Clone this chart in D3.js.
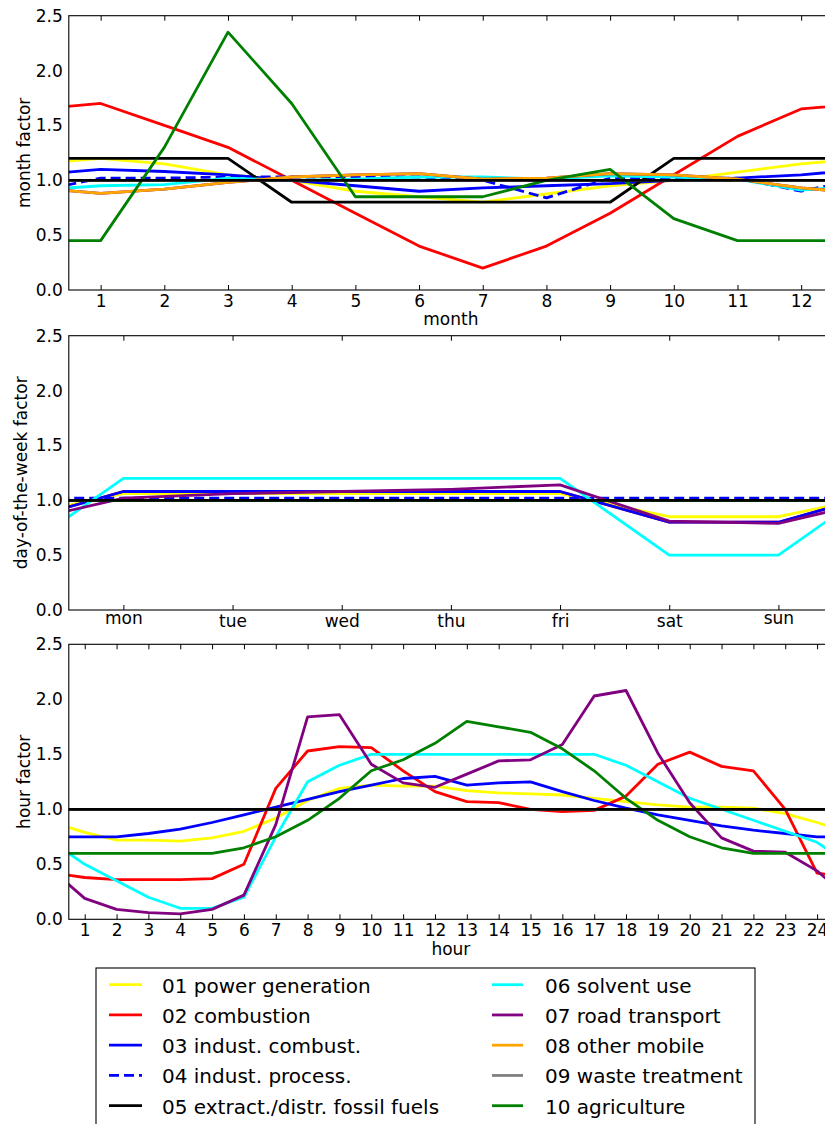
<!DOCTYPE html>
<html><head><meta charset="utf-8">
<script src="https://cdn.jsdelivr.net/npm/d3@7"></script>
<style>
body{margin:0;background:#fff}
svg{display:block}
text{font-family:"DejaVu Sans",sans-serif;fill:#000}
</style>
</head><body><svg id="c" width="825" height="1124"></svg>
<script>
// ---------- data ----------
const sectorNames = ["01 power generation","02 combustion","03 indust. combust.","04 indust. process.",
  "05 extract./distr. fossil fuels","06 solvent use","07 road transport","08 other mobile",
  "09 waste treatment","10 agriculture"];
const sectorColors = ["#ffff00","#ff0000","#0000ff","#0000ff","#000000","#00ffff","#800080","#ffa500","#808080","#008000"];
const sectorDashed = [false,false,false,true,false,false,false,false,false,false];

const monthLabels = ["1","2","3","4","5","6","7","8","9","10","11","12"];
const dayLabels = ["mon","tue","wed","thu","fri","sat","sun"];
const hourLabels = ["1","2","3","4","5","6","7","8","9","10","11","12","13","14","15","16","17","18","19","20","21","22","23","24"];
const yTicks = [0.0,0.5,1.0,1.5,2.0,2.5];

// month factors
const m01 = [1.20,1.15,1.05,1.00,0.90,0.85,0.80,0.875,0.95,1.00,1.075,1.15];
const m02 = [1.70,1.50,1.30,1.00,0.70,0.40,0.20,0.40,0.70,1.05,1.40,1.65];
const m03 = [1.10,1.08,1.05,1.00,0.95,0.90,0.93,0.95,0.97,1.00,1.02,1.05];
const m04 = [1.02,1.02,1.03,1.03,1.03,1.03,1.00,0.84,1.02,1.02,1.02,0.90];
const m05 = [1.20,1.20,1.20,0.80,0.80,0.80,0.80,0.80,0.80,1.20,1.20,1.20];
const m06 = [0.95,0.96,1.02,1.00,1.01,1.03,1.03,1.01,1.04,1.03,1.01,0.91];
const m07 = [0.88,0.92,0.98,1.03,1.05,1.06,1.01,1.02,1.06,1.05,1.01,0.93];
const m08 = [0.88,0.92,0.98,1.03,1.05,1.06,1.01,1.02,1.06,1.05,1.01,0.93];
const m09 = [1,1,1,1,1,1,1,1,1,1,1,1];
const m10 = [0.45,1.30,2.35,1.70,0.85,0.85,0.85,1.00,1.10,0.65,0.45,0.45];

// day-of-the-week factors
const d01 = [1.06,1.06,1.06,1.06,1.06,0.85,0.85];
const d02 = [1.08,1.08,1.08,1.08,1.08,0.80,0.80];
const d03 = [1.08,1.08,1.08,1.08,1.08,0.80,0.80];
const d04 = [1.02,1.02,1.02,1.02,1.02,1.02,1.02];
const d05 = [1,1,1,1,1,1,1];
const d06 = [1.20,1.20,1.20,1.20,1.20,0.50,0.50];
const d07 = [1.02,1.06,1.08,1.10,1.14,0.81,0.79];
const d08 = [1,1,1,1,1,1,1];
const d09 = [1,1,1,1,1,1,1];
const d10 = [1,1,1,1,1,1,1];

// hour factors
const h01 = [0.79,0.72,0.72,0.71,0.74,0.80,0.92,1.08,1.19,1.22,1.21,1.21,1.17,1.15,1.14,1.13,1.10,1.07,1.04,1.02,1.02,1.01,0.96,0.88];
const h02 = [0.38,0.36,0.36,0.36,0.37,0.50,1.19,1.53,1.57,1.56,1.35,1.16,1.07,1.06,1.00,0.98,0.99,1.12,1.41,1.52,1.39,1.35,1.00,0.42];
const h03 = [0.75,0.75,0.78,0.82,0.88,0.95,1.02,1.09,1.16,1.22,1.28,1.30,1.22,1.24,1.25,1.16,1.08,1.01,0.95,0.90,0.85,0.81,0.78,0.75];
const h04 = [1,1,1,1,1,1,1,1,1,1,1,1,1,1,1,1,1,1,1,1,1,1,1,1];
const h05 = [1,1,1,1,1,1,1,1,1,1,1,1,1,1,1,1,1,1,1,1,1,1,1,1];
const h06 = [0.50,0.35,0.20,0.10,0.10,0.20,0.75,1.25,1.40,1.50,1.50,1.50,1.50,1.50,1.50,1.50,1.50,1.40,1.25,1.10,1.00,0.90,0.80,0.70];
const h07 = [0.19,0.09,0.06,0.05,0.09,0.22,0.86,1.84,1.86,1.41,1.24,1.20,1.32,1.44,1.45,1.59,2.03,2.08,1.51,1.06,0.74,0.62,0.61,0.44];
const h08 = [1,1,1,1,1,1,1,1,1,1,1,1,1,1,1,1,1,1,1,1,1,1,1,1];
const h09 = [1,1,1,1,1,1,1,1,1,1,1,1,1,1,1,1,1,1,1,1,1,1,1,1];
const h10 = [0.60,0.60,0.60,0.60,0.60,0.65,0.75,0.90,1.10,1.35,1.45,1.60,1.80,1.75,1.70,1.55,1.35,1.10,0.90,0.75,0.65,0.60,0.60,0.60];

// ---------- drawing ----------
const svg = d3.select("#c");
const X0 = 68.8, X1 = 833;
const LW = 2.8;

const panels = [
  {top:15.7, bottom:290, labels:monthLabels, first:1, ylabel:"month factor", ylx:30,
   xlabel:"month", xlabY:325, series:[m01,m02,m03,m04,m05,m06,m07,m08,m09,m10]},
  {top:335.7, bottom:610, labels:dayLabels, first:0, ylabel:"day-of-the-week factor", ylx:27,
   xlabel:null, series:[d01,d02,d03,d04,d05,d06,d07,d08,d09,d10]},
  {top:644.3, bottom:919.3, labels:hourLabels, first:1, ylabel:"hour factor", ylx:30,
   xlabel:"hour", xlabY:955, series:[h01,h02,h03,h04,h05,h06,h07,h08,h09,h10]}
];

panels.forEach((p, pi) => {
  const n = p.labels.length;
  const x = d3.scaleLinear().domain([p.first - 0.5, p.first + n - 0.5]).range([X0, X1]);
  const y = d3.scaleLinear().domain([0, 2.5]).range([p.bottom, p.top]);
  const tickVals = d3.range(p.first, p.first + n);

  const cid = "clip" + pi;
  svg.append("clipPath").attr("id", cid).append("rect")
    .attr("x", X0).attr("y", p.top).attr("width", X1 - X0).attr("height", p.bottom - p.top);

  const g = svg.append("g");
  const lineGen = d3.line().x(d => x(d.x)).y(d => y(d.v));
  const plotG = g.append("g").attr("clip-path", `url(#${cid})`);

  p.series.forEach((arr, si) => {
    // cyclic wrap: last value before the first, first value after the last
    const pts = [{x:p.first - 1, v:arr[n - 1]}]
      .concat(arr.map((v, i) => ({x:p.first + i, v})))
      .concat([{x:p.first + n, v:arr[0]}]);
    plotG.append("path").datum(pts)
      .attr("d", lineGen)
      .attr("fill", "none")
      .attr("stroke", sectorColors[si])
      .attr("stroke-width", LW)
      .attr("stroke-linejoin", "round")
      .attr("stroke-dasharray", sectorDashed[si] ? "10,5" : null);
  });
  // reference line at 1.0
  plotG.append("path").datum([{x:p.first - 1, v:1}, {x:p.first + n, v:1}])
    .attr("d", lineGen).attr("fill","none").attr("stroke","#000").attr("stroke-width", LW);

  // frame
  g.append("rect").attr("x", X0).attr("y", p.top).attr("width", X1 - X0).attr("height", p.bottom - p.top)
    .attr("fill", "none").attr("stroke", "#000").attr("stroke-width", 1.1);

  // bottom axis (ticks inward)
  const ax = g.append("g").attr("transform", `translate(0,${p.bottom})`)
    .call(d3.axisBottom(x).tickValues(tickVals).tickFormat((d, i) => p.labels[i])
      .tickSizeInner(-5).tickSizeOuter(0).tickPadding(5));
  ax.select(".domain").remove();
  ax.attr("font-size", 17).attr("font-family", "DejaVu Sans").attr("color", "#000");
  ax.selectAll("text").attr("dy", d => {
    const lab = p.labels[d - p.first];
    return /[bdfhiklt0-9]/.test(lab) ? "0.71em" : "0.53em";
  });

  // top ticks
  const at = g.append("g").attr("transform", `translate(0,${p.top})`)
    .call(d3.axisTop(x).tickValues(tickVals).tickFormat("").tickSizeInner(-5).tickSizeOuter(0));
  at.select(".domain").remove();
  at.attr("color", "#000");

  // left axis
  const ay = g.append("g").attr("transform", `translate(${X0},0)`)
    .call(d3.axisLeft(y).tickValues(yTicks).tickFormat(d3.format(".1f")).tickSize(0).tickPadding(6));
  ay.select(".domain").remove();
  ay.attr("font-size", 17).attr("font-family", "DejaVu Sans").attr("color", "#000");

  // labels
  g.append("text").attr("transform", `translate(${p.ylx},${(p.top + p.bottom) / 2}) rotate(-90)`)
    .attr("text-anchor", "middle").attr("font-size", 17).text(p.ylabel);
  if (p.xlabel) {
    g.append("text").attr("x", (X0 + X1) / 2).attr("y", p.xlabY)
      .attr("text-anchor", "middle").attr("font-size", 17).text(p.xlabel);
  }
});

// ---------- legend ----------
const lg = svg.append("g");
lg.append("rect").attr("x", 96).attr("y", 968).attr("width", 659).attr("height", 180)
  .attr("fill", "#fff").attr("stroke", "#000").attr("stroke-width", 1.1);
const cols = [{lx0:109, lx1:142, tx:162}, {lx0:492, lx1:523, tx:545}];
sectorNames.forEach((name, i) => {
  const c = cols[Math.floor(i / 5)];
  const base = 992.7 + 30.25 * (i % 5);
  lg.append("line").attr("x1", c.lx0).attr("x2", c.lx1).attr("y1", base - 8).attr("y2", base - 8)
    .attr("stroke", sectorColors[i]).attr("stroke-width", LW)
    .attr("stroke-dasharray", sectorDashed[i] ? "10,5" : null);
  lg.append("text").attr("x", c.tx).attr("y", base).attr("font-size", 20).text(name);
});
</script></body></html>
